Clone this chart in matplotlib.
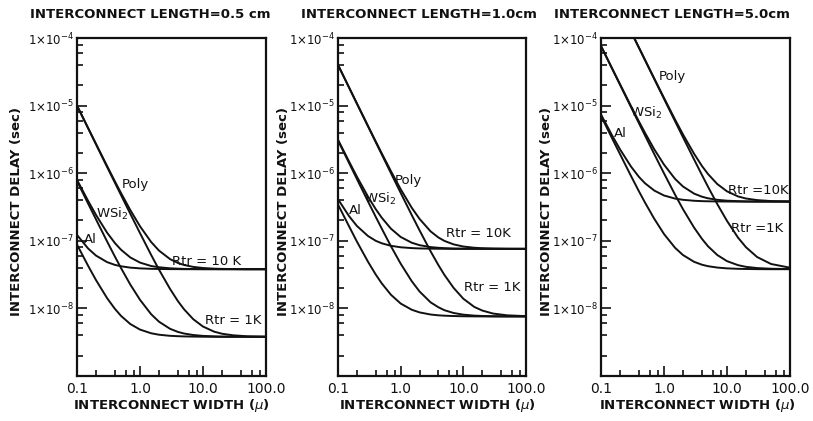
import matplotlib
matplotlib.use("Agg")
import matplotlib.pyplot as plt
from matplotlib.ticker import FixedLocator, NullFormatter, LogLocator

# ---------------- data ----------------
widths = [0.1, 0.15, 0.2, 0.3, 0.4, 0.5, 0.7, 1, 1.5, 2, 3, 4, 5, 7, 10, 15, 20, 30, 50, 100]

# interconnect length 0.5 cm
al_10k_05 = [1.22e-7, 7.7e-8, 6.05e-8, 4.84e-8, 4.4e-8, 4.2e-8, 4.01e-8, 3.91e-8, 3.85e-8, 3.83e-8, 3.81e-8, 3.81e-8, 3.8e-8, 3.8e-8, 3.8e-8, 3.8e-8, 3.8e-8, 3.8e-8, 3.8e-8, 3.8e-8]
al_1k_05 = [8.78e-8, 4.27e-8, 2.63e-8, 1.42e-8, 9.83e-9, 7.75e-9, 5.88e-9, 4.86e-9, 4.29e-9, 4.08e-9, 3.93e-9, 3.88e-9, 3.85e-9, 3.83e-9, 3.81e-9, 3.8e-9, 3.8e-9, 3.8e-9, 3.8e-9, 3.8e-9]
wsi_10k_05 = [7.98e-7, 3.9e-7, 2.42e-7, 1.32e-7, 9.25e-8, 7.37e-8, 5.68e-8, 4.76e-8, 4.24e-8, 4.06e-8, 3.92e-8, 3.87e-8, 3.84e-8, 3.82e-8, 3.81e-8, 3.81e-8, 3.8e-8, 3.8e-8, 3.8e-8, 3.8e-8]
wsi_1k_05 = [7.64e-7, 3.56e-7, 2.08e-7, 9.8e-8, 5.83e-8, 3.95e-8, 2.26e-8, 1.34e-8, 8.22e-9, 6.36e-9, 4.99e-9, 4.49e-9, 4.25e-9, 4.04e-9, 3.92e-9, 3.86e-9, 3.83e-9, 3.82e-9, 3.8e-9, 3.8e-9]
poly_10k_05 = [1.0e-5, 4.67e-6, 2.72e-6, 1.28e-6, 7.56e-7, 5.08e-7, 2.86e-7, 1.64e-7, 9.62e-8, 7.17e-8, 5.36e-8, 4.7e-8, 4.39e-8, 4.11e-8, 3.96e-8, 3.87e-8, 3.84e-8, 3.82e-8, 3.8e-8, 3.8e-8]
poly_1k_05 = [1.0e-5, 4.63e-6, 2.68e-6, 1.24e-6, 7.22e-7, 4.74e-7, 2.52e-7, 1.3e-7, 6.2e-8, 3.75e-8, 1.94e-8, 1.28e-8, 9.71e-9, 6.92e-9, 5.39e-9, 4.53e-9, 4.22e-9, 4.0e-9, 3.87e-9, 3.82e-9]

# interconnect length 1.0 cm
al_10k_10 = [4.12e-7, 2.32e-7, 1.66e-7, 1.18e-7, 1.0e-7, 9.18e-8, 8.43e-8, 8.02e-8, 7.8e-8, 7.71e-8, 7.65e-8, 7.63e-8, 7.62e-8, 7.6e-8, 7.6e-8, 7.6e-8, 7.6e-8, 7.6e-8, 7.6e-8, 7.6e-8]
al_1k_10 = [3.44e-7, 1.64e-7, 9.76e-8, 4.93e-8, 3.17e-8, 2.34e-8, 1.59e-8, 1.18e-8, 9.56e-9, 8.73e-9, 8.12e-9, 7.9e-9, 7.8e-9, 7.71e-9, 7.65e-9, 7.62e-9, 7.61e-9, 7.6e-9, 7.6e-9, 7.6e-9]
wsi_10k_10 = [3.12e-6, 1.49e-6, 8.91e-7, 4.53e-7, 2.94e-7, 2.19e-7, 1.51e-7, 1.14e-7, 9.37e-8, 8.62e-8, 8.07e-8, 7.88e-8, 7.78e-8, 7.69e-8, 7.65e-8, 7.62e-8, 7.61e-8, 7.61e-8, 7.6e-8, 7.6e-8]
wsi_1k_10 = [3.05e-6, 1.42e-6, 8.23e-7, 3.85e-7, 2.26e-7, 1.51e-7, 8.3e-8, 4.59e-8, 2.53e-8, 1.78e-8, 1.23e-8, 1.04e-8, 9.4e-9, 8.55e-9, 8.08e-9, 7.82e-9, 7.73e-9, 7.66e-9, 7.62e-9, 7.6e-9]
poly_10k_10 = [4.0e-5, 1.86e-5, 1.08e-5, 5.04e-6, 2.95e-6, 1.96e-6, 1.07e-6, 5.8e-7, 3.09e-7, 2.11e-7, 1.38e-7, 1.12e-7, 9.96e-8, 8.85e-8, 8.23e-8, 7.89e-8, 7.77e-8, 7.68e-8, 7.63e-8, 7.61e-8]
poly_1k_10 = [4.0e-5, 1.85e-5, 1.07e-5, 4.97e-6, 2.88e-6, 1.89e-6, 1.0e-6, 5.12e-7, 2.41e-7, 1.43e-7, 7.0e-8, 4.37e-8, 3.12e-8, 2.01e-8, 1.39e-8, 1.05e-8, 9.3e-9, 8.38e-9, 7.9e-9, 7.68e-9]

# interconnect length 5.0 cm
al_10k_50 = [7.38e-6, 3.62e-6, 2.26e-6, 1.25e-6, 8.82e-7, 7.09e-7, 5.54e-7, 4.68e-7, 4.21e-7, 4.04e-7, 3.91e-7, 3.86e-7, 3.84e-7, 3.82e-7, 3.81e-7, 3.8e-7, 3.8e-7, 3.8e-7, 3.8e-7, 3.8e-7]
al_1k_50 = [7.04e-6, 3.28e-6, 1.92e-6, 9.06e-7, 5.4e-7, 3.67e-7, 2.12e-7, 1.26e-7, 7.87e-8, 6.16e-8, 4.89e-8, 4.43e-8, 4.21e-8, 4.02e-8, 3.91e-8, 3.85e-8, 3.83e-8, 3.81e-8, 3.8e-8, 3.8e-8]
wsi_10k_50 = [7.64e-5, 3.56e-5, 2.08e-5, 9.8e-6, 5.83e-6, 3.95e-6, 2.26e-6, 1.34e-6, 8.22e-7, 6.36e-7, 4.99e-7, 4.49e-7, 4.25e-7, 4.04e-7, 3.92e-7, 3.86e-7, 3.83e-7, 3.81e-7, 3.8e-7, 3.8e-7]
wsi_1k_50 = [7.6e-5, 3.52e-5, 2.04e-5, 9.46e-6, 5.49e-6, 3.61e-6, 1.92e-6, 9.95e-7, 4.8e-7, 2.94e-7, 1.57e-7, 1.07e-7, 8.29e-8, 6.17e-8, 5.0e-8, 4.36e-8, 4.12e-8, 3.95e-8, 3.86e-8, 3.82e-8]
poly_10k_50 = [1e-3, 4.63e-4, 2.68e-4, 1.24e-4, 7.22e-5, 4.74e-5, 2.52e-5, 1.30e-5, 6.2e-6, 3.75e-6, 1.94e-6, 1.28e-6, 9.71e-7, 6.92e-7, 5.39e-7, 4.53e-7, 4.22e-7, 4.0e-7, 3.87e-7, 3.82e-7]
poly_1k_50 = [1e-3, 4.63e-4, 2.68e-4, 1.24e-4, 7.18e-5, 4.70e-5, 2.48e-5, 1.26e-5, 5.86e-6, 3.41e-6, 1.60e-6, 9.42e-7, 6.29e-7, 3.5e-7, 1.97e-7, 1.11e-7, 8.04e-8, 5.76e-8, 4.54e-8, 4.0e-8]

titles = ["INTERCONNECT LENGTH=0.5 cm", "INTERCONNECT LENGTH=1.0cm", "INTERCONNECT LENGTH=5.0cm"]
x_ticks = [0.1, 1, 10, 100]
x_ticklabels = ["0.1", "1.0", "10.0", "100.0"]
y_ticks = [1e-9, 1e-8, 1e-7, 1e-6, 1e-5, 1e-4]
y_ticklabels = ["", r"$1{\times}10^{-8}$", r"$1{\times}10^{-7}$", r"$1{\times}10^{-6}$",
                r"$1{\times}10^{-5}$", r"$1{\times}10^{-4}$"]
xlabel = "INTERCONNECT WIDTH ($\\mu$)"
ylabel = "INTERCONNECT DELAY (sec)"

panels = [
    [al_10k_05, al_1k_05, wsi_10k_05, wsi_1k_05, poly_10k_05, poly_1k_05],
    [al_10k_10, al_1k_10, wsi_10k_10, wsi_1k_10, poly_10k_10, poly_1k_10],
    [al_10k_50, al_1k_50, wsi_10k_50, wsi_1k_50, poly_10k_50, poly_1k_50],
]

# annotations per panel: (text, x, y)
annots = [
    [("Poly", 0.86, 6.8e-7), ("WSi$_2$", 0.36, 2.5e-7), ("Al", 0.16, 1.04e-7),
     ("Rtr = 10 K", 11.5, 5.0e-8), ("Rtr = 1K", 30, 6.6e-9)],
    [("Poly", 1.31, 7.7e-7), ("WSi$_2$", 0.47, 4.2e-7), ("Al", 0.187, 2.76e-7),
     ("Rtr = 10K", 17.7, 1.3e-7), ("Rtr = 1K", 28.6, 2.07e-8)],
    [("Poly", 1.34, 2.65e-5), ("WSi$_2$", 0.52, 7.8e-6), ("Al", 0.2, 3.9e-6),
     ("Rtr =10K", 31, 5.6e-7), ("Rtr =1K", 30, 1.5e-7)],
]

# ---------------- layout (pixel based) ----------------
W, H = 813, 421
fig = plt.figure(figsize=(W / 100, H / 100), dpi=100)
plt.rcParams['font.family'] = ['DejaVu Sans']
plt.rcParams['mathtext.fontset'] = 'dejavusans'

ax_px = [(77, 266), (338, 526), (601, 790)]
top_px, bot_px = 38, 376
title_px = [(150, 14), (419, 14), (672, 14)]
ylab_px = [17, 283, 546]
xlab_px = [171, 437, 697]

ink = "#111111"
for i, (l, r) in enumerate(ax_px):
    ax = fig.add_axes([l / W, 1 - bot_px / H, (r - l) / W, (bot_px - top_px) / H])
    ax.set_xscale('log')
    ax.set_yscale('log')
    for series in panels[i]:
        ax.plot(widths, series, color=ink, lw=1.4, solid_capstyle='round',
                solid_joinstyle='round')
    ax.set_xlim(0.1, 100)
    ax.set_ylim(1e-9, 1e-4)
    ax.xaxis.set_major_locator(FixedLocator(x_ticks))
    ax.set_xticklabels(x_ticklabels)
    ax.xaxis.set_minor_locator(LogLocator(base=10, subs=[2, 4, 6, 8]))
    ax.xaxis.set_minor_formatter(NullFormatter())
    ax.yaxis.set_major_locator(FixedLocator(y_ticks))
    ax.set_yticklabels(y_ticklabels)
    ax.yaxis.set_minor_locator(LogLocator(base=10, subs=[2, 4, 6, 8]))
    ax.yaxis.set_minor_formatter(NullFormatter())
    ax.tick_params(which='both', direction='in', top=False, right=False, color=ink, width=1.2)
    ax.tick_params(which='major', length=7, pad=3, labelcolor=ink)
    ax.tick_params(which='minor', length=4)
    ax.tick_params(axis='y', which='major', labelsize=8.5, pad=2)
    ax.tick_params(axis='x', which='major', labelsize=10, pad=4)
    for s in ax.spines.values():
        s.set_linewidth(1.6)
        s.set_color(ink)
    for (t, x, y) in annots[i]:
        ax.text(x, y, t, ha='center', va='center', fontsize=9.5, color=ink)
    tx, ty = title_px[i]
    fig.text(tx / W, 1 - ty / H, titles[i], ha='center', va='center', fontsize=9.5,
             color=ink, fontweight='bold')
    fig.text(ylab_px[i] / W, 1 - 212 / H, ylabel, rotation=90, ha='center', va='center',
             fontsize=9.5, color=ink, fontweight='bold')
    fig.text(xlab_px[i] / W, 1 - 406 / H, xlabel, ha='center', va='center',
             fontsize=9.5, color=ink, fontweight='bold')

fig.savefig("out.png", dpi=100)
